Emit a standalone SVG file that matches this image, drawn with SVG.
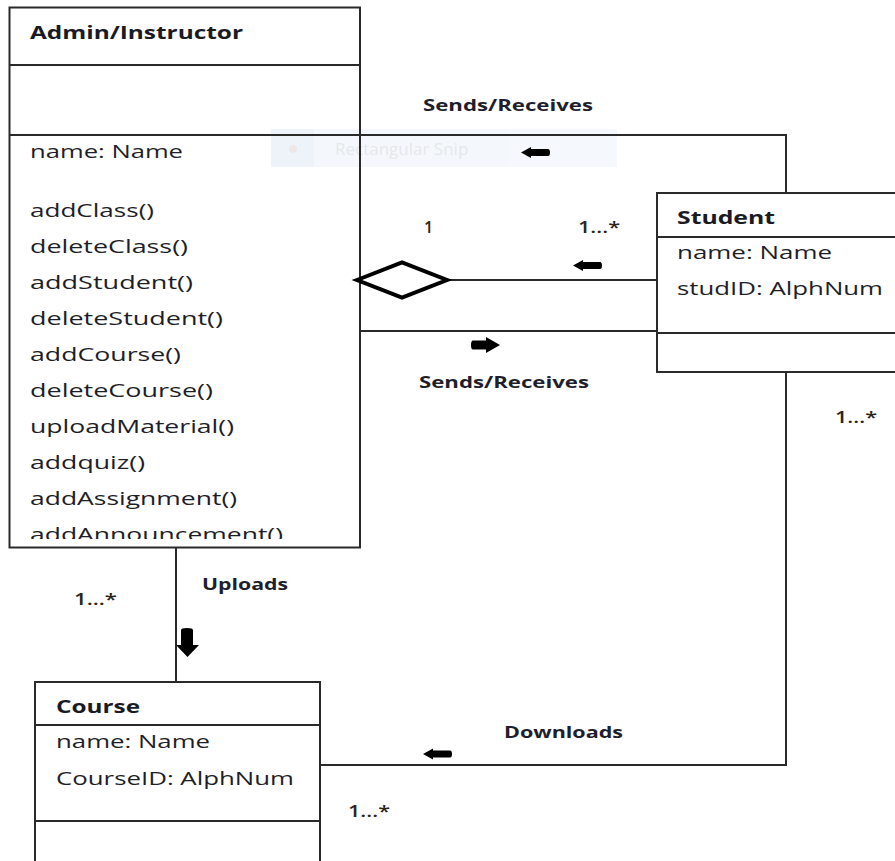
<svg xmlns="http://www.w3.org/2000/svg" width="895" height="861" viewBox="0 0 895 861">
<style>
.box{fill:none;stroke:#2a2a2a;stroke-width:2}
.ln{fill:none;stroke:#2a2a2a;stroke-width:2}
.t{font-family:"Open Sans","Liberation Sans",sans-serif;font-size:19px;fill:#1e1e28}
.b{font-family:"Open Sans","Liberation Sans",sans-serif;font-size:18px;font-weight:bold;fill:#1a1a24}
.lbl{font-family:"Open Sans","Liberation Sans",sans-serif;font-size:16px;font-weight:bold;fill:#1e1e2c}
.m{font-family:"Open Sans","Liberation Sans",sans-serif;font-size:16px;font-weight:600;fill:#2a2418}
.arr{fill:#000}
</style>
<defs>
<clipPath id="adminClip"><rect x="0" y="0" width="895" height="539"/></clipPath>
<path id="arrowL" d="M0,5.5 L10,0 L10,2 L27,2 Q29,2 29,5.5 Q29,9 27,9 L10,9 L10,11 Z"/>
</defs>
<rect x="0" y="0" width="895" height="861" fill="#fff"/>

<g id="snip-overlay" opacity="0.6">
<rect x="271" y="129" width="346" height="38" fill="#eef4fb"/>
<rect x="271" y="129" width="43" height="38" fill="#e4ecf6"/>
<circle cx="293" cy="149" r="4" fill="#e6d8d8"/>
<text x="335" y="155" font-family="Open Sans, Liberation Sans, sans-serif" font-size="17" fill="#d4d8de">Rectangular Snip</text>
</g>

<g id="admin">
<rect class="box" x="9.5" y="7.5" width="350.5" height="540"/>
<line class="ln" x1="9.5" y1="65" x2="360" y2="65"/>
<line class="ln" x1="9.5" y1="135" x2="360" y2="135"/>
<text class="b" x="30" y="39" textLength="213" lengthAdjust="spacingAndGlyphs">Admin/Instructor</text>
<text class="t" x="30" y="158" textLength="153" lengthAdjust="spacingAndGlyphs">name: Name</text>
<text class="t" x="30" y="217" textLength="124" lengthAdjust="spacingAndGlyphs">addClass()</text>
<text class="t" x="30" y="253" textLength="158" lengthAdjust="spacingAndGlyphs">deleteClass()</text>
<text class="t" x="30" y="289" textLength="163" lengthAdjust="spacingAndGlyphs">addStudent()</text>
<text class="t" x="30" y="325" textLength="193" lengthAdjust="spacingAndGlyphs">deleteStudent()</text>
<text class="t" x="30" y="361" textLength="151" lengthAdjust="spacingAndGlyphs">addCourse()</text>
<text class="t" x="30" y="397" textLength="183" lengthAdjust="spacingAndGlyphs">deleteCourse()</text>
<text class="t" x="30" y="433" textLength="204" lengthAdjust="spacingAndGlyphs">uploadMaterial()</text>
<text class="t" x="30" y="469" textLength="115" lengthAdjust="spacingAndGlyphs">addquiz()</text>
<text class="t" x="30" y="505" textLength="207" lengthAdjust="spacingAndGlyphs">addAssignment()</text>
<text class="t" x="30" y="541" textLength="253" lengthAdjust="spacingAndGlyphs" clip-path="url(#adminClip)">addAnnouncement()</text>
</g>

<g id="student">
<rect class="box" x="657" y="193" width="260" height="179"/>
<line class="ln" x1="657" y1="237" x2="895" y2="237"/>
<line class="ln" x1="657" y1="333" x2="895" y2="333"/>
<text class="b" x="677" y="224" textLength="98" lengthAdjust="spacingAndGlyphs">Student</text>
<text class="t" x="677" y="259" textLength="155" lengthAdjust="spacingAndGlyphs">name: Name</text>
<text class="t" x="677" y="295" textLength="206" lengthAdjust="spacingAndGlyphs">studID: AlphNum</text>
</g>

<g id="course">
<rect class="box" x="35" y="682" width="285" height="200"/>
<line class="ln" x1="35" y1="725" x2="320" y2="725"/>
<line class="ln" x1="35" y1="821" x2="320" y2="821"/>
<text class="b" x="56" y="713" textLength="84" lengthAdjust="spacingAndGlyphs">Course</text>
<text class="t" x="56" y="748" textLength="154" lengthAdjust="spacingAndGlyphs">name: Name</text>
<text class="t" x="56" y="785" textLength="238" lengthAdjust="spacingAndGlyphs">CourseID: AlphNum</text>
</g>

<g id="connectors">
<polyline class="ln" points="360,135 786,135 786,193"/>
<line class="ln" x1="447" y1="280" x2="657" y2="280"/>
<polygon points="357,280 402,262.5 447,280 402,297.5" fill="#fff" stroke="#000" stroke-width="4" stroke-linejoin="miter"/>
<line class="ln" x1="360" y1="331" x2="657" y2="331"/>
<polyline class="ln" points="786,372 786,765 320,765"/>
<line class="ln" x1="176" y1="548" x2="176" y2="682"/>
<use href="#arrowL" class="arr" x="521" y="147"/>
<use href="#arrowL" class="arr" x="573" y="260"/>
<use href="#arrowL" class="arr" x="423" y="748.5"/>
<path class="arr" d="M500,345 L486,337 L486,340.5 L473,340.5 Q471,340.5 471,345 Q471,349.5 473,349.5 L486,349.5 L486,353 Z"/>
<path class="arr" d="M187.5,657 L176,645 L181,645 L181,630 Q181,628 187,628 Q193,628 193,630 L193,645 L199,645 Z"/>
</g>

<g id="labels">
<text class="lbl" x="423" y="111" textLength="170" lengthAdjust="spacingAndGlyphs">Sends/Receives</text>
<text class="lbl" x="419" y="388" textLength="170" lengthAdjust="spacingAndGlyphs">Sends/Receives</text>
<text class="lbl" x="202" y="590" textLength="86" lengthAdjust="spacingAndGlyphs">Uploads</text>
<text class="lbl" x="504" y="738" textLength="119" lengthAdjust="spacingAndGlyphs">Downloads</text>
<text class="m" x="424" y="233">1</text>
<text class="m" x="578" y="233" textLength="42" lengthAdjust="spacingAndGlyphs">1...*</text>
<text class="m" x="835" y="423" textLength="42" lengthAdjust="spacingAndGlyphs">1...*</text>
<text class="m" x="74" y="605" textLength="43" lengthAdjust="spacingAndGlyphs">1...*</text>
<text class="m" x="348" y="817" textLength="42" lengthAdjust="spacingAndGlyphs">1...*</text>
</g>
</svg>
